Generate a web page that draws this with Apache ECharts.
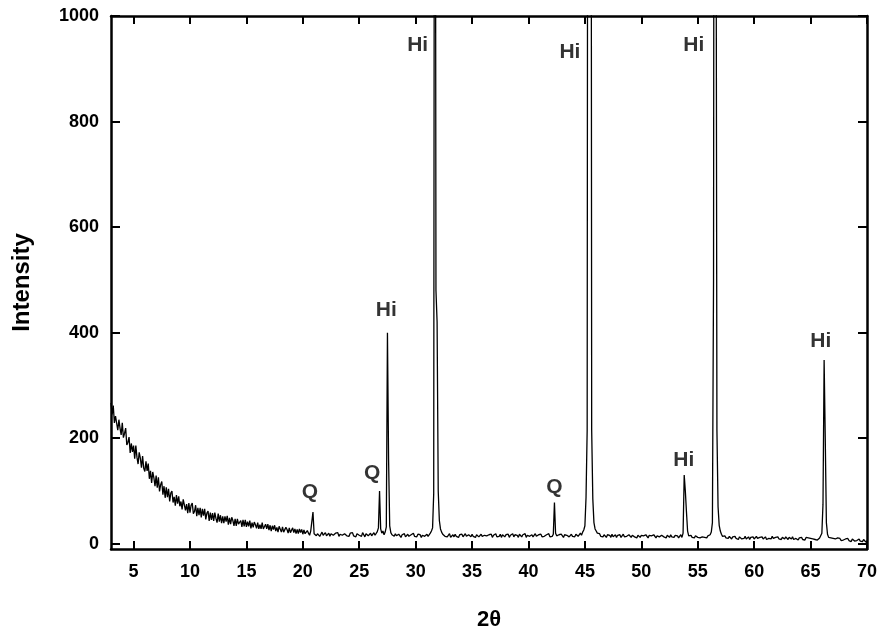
<!DOCTYPE html>
<html>
<head>
<meta charset="utf-8">
<script src="https://cdn.jsdelivr.net/npm/echarts@6/dist/echarts.min.js"></script>
<style>
html,body{margin:0;padding:0;background:#fff;}
#chart{width:882px;height:637px;}
</style>
</head>
<body>
<div id="chart"></div>
<script>
// 2θ sampling grid: start angle and step (degrees)
const startAngle = 3.0;
const angleStep = 0.1;

const intensity = [
/* 3 */ 267, 245, 262, 229, 242, 245, 215, 235, 219, 206,
/* 4 */ 229, 201, 209, 219, 187, 192, 202, 172, 190, 174,
/* 5 */ 186, 161, 186, 164, 151, 173, 162, 144, 166, 143,
/* 6 */ 137, 156, 138, 152, 123, 138, 115, 136, 125, 109,
/* 7 */ 129, 106, 126, 99, 112, 118, 93, 109, 87, 107,
/* 8 */ 88, 104, 80, 96, 100, 78, 89, 72, 92, 76,
/* 9 */ 90, 71, 80, 65, 84, 85, 63, 75, 58, 77,
/* 10 */ 59, 73, 77, 57, 61, 73, 52, 68, 54, 68,
/* 11 */ 50, 66, 53, 66, 46, 58, 62, 43, 59, 45,
/* 12 */ 58, 43, 59, 48, 40, 57, 42, 54, 39, 52,
/* 13 */ 39, 52, 42, 53, 36, 49, 37, 50, 44, 34,
/* 14 */ 47, 34, 47, 37, 34, 44, 32, 45, 33, 45,
/* 15 */ 32, 42, 33, 44, 29, 40, 31, 41, 36, 29,
/* 16 */ 40, 28, 36, 28, 40, 28, 26, 37, 28, 37,
/* 17 */ 26, 35, 24, 34, 27, 35, 24, 31, 22, 33,
/* 18 */ 31, 22, 32, 22, 20, 31, 27, 20, 30, 21,
/* 19 */ 21, 30, 21, 28, 19, 27, 19, 28, 21, 27,
/* 20 */ 18, 26, 19, 17, 25, 20, 16, 24, 22, 60,
/* 21 */ 19, 22, 15, 19, 21, 14, 18, 22, 16, 17,
/* 22 */ 21, 15, 18, 20, 14, 19, 22, 16, 15, 20,
/* 23 */ 17, 21, 14, 18, 20, 16, 13, 19, 21, 15,
/* 24 */ 18, 14, 20, 17, 21, 15, 18, 13, 19, 20,
/* 25 */ 16, 19, 14, 21, 17, 13, 19, 20, 15, 18,
/* 26 */ 20, 15, 17, 21, 16, 19, 23, 30, 100, 28,
/* 27 */ 20, 24, 17, 22, 32, 400, 160, 34, 21, 17,
/* 28 */ 17, 14, 19, 15, 13, 18, 16, 12, 17, 15,
/* 29 */ 19, 13, 16, 18, 14, 12, 17, 15, 20, 14,
/* 30 */ 16, 13, 18, 15, 17, 12, 16, 19, 14, 15,
/* 31 */ 18, 14, 17, 20, 24, 30, 95, 2400, 480, 420,
/* 32 */ 100, 44, 28, 22, 18, 21, 14, 17, 13, 16,
/* 33 */ 19, 12, 15, 17, 13, 18, 14, 16, 12, 17,
/* 34 */ 15, 18, 13, 16, 19, 14, 12, 17, 15, 13,
/* 35 */ 18, 14, 16, 12, 17, 19, 13, 15, 18, 14,
/* 36 */ 12, 16, 19, 15, 13, 17, 14, 18, 12, 16,
/* 37 */ 15, 19, 13, 16, 14, 18, 12, 17, 15, 13,
/* 38 */ 17, 14, 18, 12, 16, 15, 19, 13, 17, 14,
/* 39 */ 16, 12, 18, 15, 13, 17, 14, 19, 12, 16,
/* 40 */ 18, 14, 15, 17, 13, 16, 19, 14, 12, 17,
/* 41 */ 15, 18, 13, 16, 14, 12, 17, 15, 19, 13,
/* 42 */ 16, 14, 18, 78, 20, 15, 13, 17, 14, 18,
/* 43 */ 15, 12, 17, 14, 16, 19, 13, 15, 18, 14,
/* 44 */ 16, 13, 18, 15, 14, 17, 20, 16, 22, 26,
/* 45 */ 34, 88, 215, 3000, 4000, 3000, 215, 85, 40, 28,
/* 46 */ 24, 20, 17, 19, 14, 16, 13, 17, 15, 12,
/* 47 */ 17, 14, 16, 12, 18, 13, 15, 17, 12, 16,
/* 48 */ 14, 17, 12, 15, 18, 13, 16, 14, 12, 17,
/* 49 */ 15, 12, 16, 18, 13, 15, 11, 16, 14, 12,
/* 50 */ 16, 13, 15, 12, 17, 14, 11, 16, 13, 15,
/* 51 */ 12, 17, 14, 11, 15, 18, 13, 12, 16, 14,
/* 52 */ 13, 15, 11, 16, 14, 12, 17, 13, 15, 12,
/* 53 */ 16, 13, 15, 11, 14, 17, 12, 20, 130, 100,
/* 54 */ 60, 24, 15, 13, 16, 12, 14, 11, 15, 13,
/* 55 */ 12, 15, 11, 14, 13, 16, 12, 14, 11, 15,
/* 56 */ 13, 17, 22, 40, 500, 3000, 3000, 215, 70, 35,
/* 57 */ 24, 18, 14, 12, 15, 11, 13, 10, 14, 12,
/* 58 */ 9, 13, 11, 14, 10, 12, 8, 13, 11, 9,
/* 59 */ 12, 10, 14, 9, 11, 13, 8, 12, 10, 13,
/* 60 */ 9, 11, 14, 10, 8, 12, 10, 13, 9, 11,
/* 61 */ 13, 8, 11, 10, 12, 9, 14, 10, 8, 12,
/* 62 */ 10, 13, 9, 11, 8, 12, 10, 9, 13, 11,
/* 63 */ 8, 12, 10, 9, 13, 8, 11, 10, 12, 7,
/* 64 */ 11, 9, 12, 8, 10, 7, 12, 9, 11, 8,
/* 65 */ 10, 7, 9, 12, 8, 10, 7, 9, 11, 13,
/* 66 */ 20, 75, 348, 200, 40, 18, 12, 9, 11, 8,
/* 67 */ 10, 7, 9, 6, 11, 8, 10, 6, 9, 7,
/* 68 */ 5, 9, 7, 10, 6, 8, 4, 9, 7, 5,
/* 69 */ 8, 6, 3, 9, 5, 7, 4, 8, 6, 3,
/* 70 */ 6
];

// Phase annotations (Hi = hematite, Q = quartz)
const phaseText = ['Q', 'Q', 'Hi', 'Hi', 'Q', 'Hi', 'Hi', 'Hi', 'Hi'];
const phaseX    = [20.62, 26.15, 27.4, 30.18, 42.3, 43.67, 53.76, 54.65, 65.9];
const phaseY    = [97, 134, 443, 945, 108, 932, 159, 945, 383];

// Tick values
const xTicks = [5, 10, 15, 20, 25, 30, 35, 40, 45, 50, 55, 60, 65, 70];
const yTicks = [0, 200, 400, 600, 800, 1000];

const pattern = intensity.map((v, i) => [Number((startAngle + i * angleStep).toFixed(1)), v]);
const annotations = phaseText.map((t, i) => ({ name: t, value: [phaseX[i], phaseY[i]] }));

const FONT = "'Liberation Sans', Arial, sans-serif";
const axisLineStyle = { color: '#000', width: 2.5 };
const tickStyle = { color: '#000', width: 2 };

const chart = echarts.init(document.getElementById('chart'), null, { renderer: 'canvas' });
chart.setOption({
  animation: false,
  backgroundColor: '#fff',
  grid: { left: 111, right: 15, top: 16, bottom: 88, containLabel: false },
  xAxis: [
    {
      type: 'value', min: 3, max: 70, position: 'bottom',
      name: '2θ', nameLocation: 'middle', nameGap: 60,
      nameTextStyle: { fontFamily: FONT, fontWeight: 'bold', fontSize: 22, color: '#000' },
      axisLine: { show: true, onZero: false, lineStyle: axisLineStyle },
      axisTick: { show: true, inside: true, length: 8, lineStyle: tickStyle, customValues: xTicks },
      axisLabel: { show: true, margin: 14, fontFamily: FONT, fontWeight: 'bold', fontSize: 18, color: '#000', customValues: xTicks, formatter: v => String(v) },
      splitLine: { show: false }
    },
    {
      type: 'value', min: 3, max: 70, position: 'top',
      axisLine: { show: true, onZero: false, lineStyle: axisLineStyle },
      axisTick: { show: true, inside: true, length: 8, lineStyle: tickStyle, customValues: xTicks },
      axisLabel: { show: false },
      splitLine: { show: false }
    }
  ],
  yAxis: [
    {
      type: 'value', min: -10, max: 1000, position: 'left',
      name: 'Intensity', nameLocation: 'middle', nameGap: 77,
      nameTextStyle: { fontFamily: FONT, fontWeight: 'bold', fontSize: 24, color: '#000' },
      axisLine: { show: true, onZero: false, lineStyle: axisLineStyle },
      axisTick: { show: true, inside: true, length: 9, lineStyle: tickStyle, customValues: yTicks },
      axisLabel: { show: true, margin: 12, fontFamily: FONT, fontWeight: 'bold', fontSize: 18, color: '#000', customValues: yTicks, formatter: v => String(v) },
      splitLine: { show: false }
    },
    {
      type: 'value', min: -10, max: 1000, position: 'right',
      axisLine: { show: true, onZero: false, lineStyle: axisLineStyle },
      axisTick: { show: true, inside: true, length: 9, lineStyle: tickStyle, customValues: yTicks },
      axisLabel: { show: false },
      splitLine: { show: false }
    }
  ],
  series: [
    {
      type: 'line',
      data: pattern,
      xAxisIndex: 0, yAxisIndex: 0,
      showSymbol: false,
      symbol: 'none',
      clip: true,
      lineStyle: { color: '#000', width: 1.3 },
      z: 3
    },
    {
      type: 'scatter',
      data: annotations,
      xAxisIndex: 0, yAxisIndex: 0,
      symbolSize: 0,
      silent: true,
      label: {
        show: true, position: 'inside',
        formatter: p => p.name,
        fontFamily: FONT, fontWeight: 'bold', fontSize: 21, color: '#000'
      },
      z: 4
    }
  ]
});
</script>
</body>
</html>
